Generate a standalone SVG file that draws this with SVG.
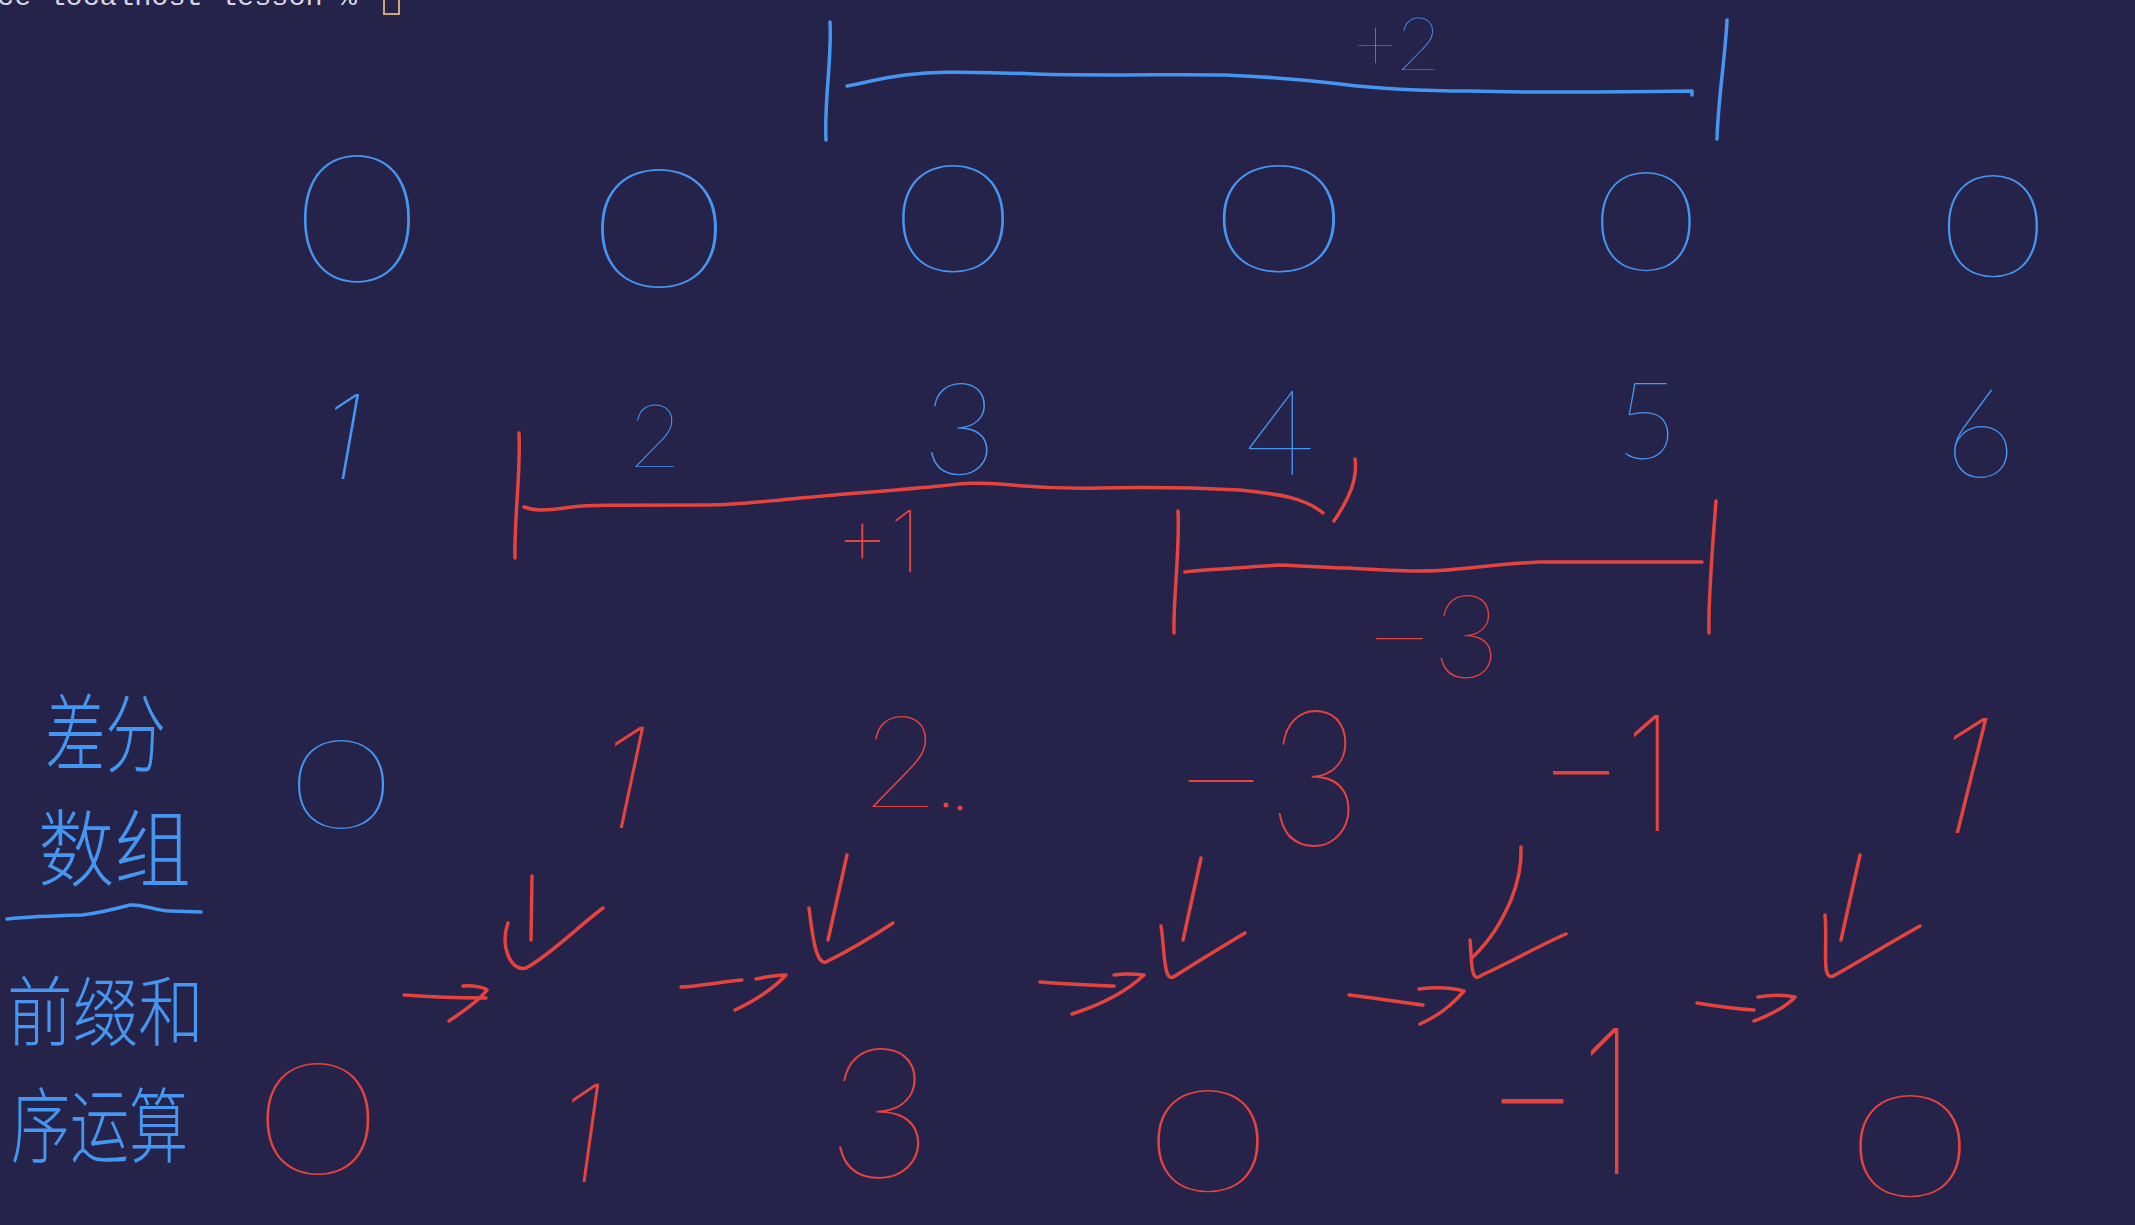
<svg xmlns="http://www.w3.org/2000/svg" width="2135" height="1225" viewBox="0 0 2135 1225">
<style>
.b{fill:none;stroke:#4596f0;stroke-width:3.5;stroke-linecap:round;stroke-linejoin:round}
.r{fill:none;stroke:#e5433d;stroke-width:3.5;stroke-linecap:round;stroke-linejoin:round}
.tb,.tr{font-family:Lato,Roboto,Inter,"DejaVu Sans",sans-serif;font-weight:200;text-anchor:middle}
.one{font-family:Inter,"Open Sans",Lato,sans-serif;font-weight:100}
.tb{fill:#4596f0}
.tr{fill:#e5433d}
.cjk{font-family:"Noto Sans CJK SC","Noto Sans CJK JP",sans-serif;font-weight:300;fill:#4596f0}
.term{font-family:"Liberation Mono","DejaVu Sans Mono",monospace;font-size:27px;fill:#d8d8e0}
</style>
<rect width="2135" height="1225" fill="#26234b"/>

<g id="terminal">
<text class="term" x="-3" y="5" textLength="360" lengthAdjust="spacingAndGlyphs">ce localhost lesson %</text>
<rect x="384" y="-6" width="15" height="20" fill="none" stroke="#c9a77a" stroke-width="2"/>
</g>

<g id="bracket-plus2">
<path class="b" d="M830,22 C832,60 824,100 826,140"/>
<path class="b" d="M847,86 C860,84 880,78 905,75 C930,72 950,71 1035,74 C1100,76 1180,74 1225,75 C1270,77 1300,79 1340,84 C1380,89 1420,91 1470,91 C1530,93 1600,92 1692,91 L1692,95"/>
<path class="b" d="M1727,20 C1725,60 1718,100 1717,139"/>
<text class="tb" x="1397" y="70" font-size="74">+2</text>
</g>

<g id="row-initial">
<text class="tb" transform="translate(357,282) scale(1.2,1)" font-size="178">0</text>
<text class="tb" transform="translate(659,287) scale(1.4,1)" font-size="167">0</text>
<text class="tb" transform="translate(953,272) scale(1.36,1)" font-size="151">0</text>
<text class="tb" transform="translate(1279,272) scale(1.5,1)" font-size="151">0</text>
<text class="tb" transform="translate(1646,270) scale(1.3,1)" font-size="139">0</text>
<text class="tb" transform="translate(1993,276) scale(1.27,1)" font-size="143">0</text>
</g>

<g id="row-index">
<text class="tb one" transform="translate(336,479) skewX(-10)" font-size="117">1</text>
<text class="tb" x="655" y="467" font-size="88">2</text>
<text class="tb" x="960" y="474" font-size="129">3</text>
<text class="tb" x="1280" y="475" font-size="120">4</text>
<text class="tb" x="1647" y="459" font-size="108">5</text>
<text class="tb" x="1980" y="477" font-size="124">6</text>
</g>

<g id="bracket-plus1">
<path class="r" d="M519,433 C521,470 514,520 515,558"/>
<path class="r" d="M524,507 C532,510 540,512 572,507 C590,505 600,505 708,505 C735,505 750,503 790,499 C830,495 900,490 940,486 C960,484 970,482 1000,484 C1030,487 1060,489 1100,488 C1150,487 1200,488 1240,490 C1280,494 1305,498 1323,513"/>
<path class="r" d="M1355,459 C1358,480 1348,500 1334,521"/>
<text class="tr one" x="878" y="572" font-size="85">+1</text>
</g>

<g id="bracket-minus3">
<path class="r" d="M1178,511 C1180,550 1173,600 1174,633"/>
<path class="r" d="M1185,572 C1200,570 1240,568 1280,565 C1310,566 1330,568 1348,568 C1380,570 1400,571 1416,571 C1440,571 1450,570 1457,569 C1480,567 1500,564 1539,562 L1702,562"/>
<path class="r" d="M1716,501 C1713,540 1708,600 1709,633"/>
<text class="tr" x="1433" y="678" font-size="116">−3</text>
</g>

<g id="labels">
<text class="cjk" x="45" y="766" font-size="86" textLength="121" lengthAdjust="spacingAndGlyphs">差分</text>
<text class="cjk" x="38" y="880" font-size="84" textLength="153" lengthAdjust="spacingAndGlyphs">数组</text>
<path class="b" d="M7,919 C25,917 41,916 82,915 C100,913 115,909 130,905 C145,904 155,911 170,911 L201,912"/>
<text class="cjk" x="7" y="1040" font-size="76" textLength="197" lengthAdjust="spacingAndGlyphs">前缀和</text>
<text class="cjk" x="11" y="1156" font-size="82" textLength="177" lengthAdjust="spacingAndGlyphs">序运算</text>
</g>

<g id="row-diff">
<text class="tb" transform="translate(341,828) scale(1.4,1)" font-size="124">0</text>
<text class="tr one" transform="translate(613,828) skewX(-12)" font-size="139">1</text>
<text class="tr" x="901" y="807" font-size="128">2</text>
<circle cx="946" cy="805" r="2.5" fill="#e5433d"/>
<circle cx="960" cy="808" r="2.5" fill="#e5433d"/>
<text class="tr" transform="translate(1268,845) scale(0.85,1)" font-size="190">−3</text>
<text class="tr one" transform="translate(1606,831) scale(0.85,1)" font-size="160">−1</text>
<text class="tr one" transform="translate(1948,833) skewX(-14)" font-size="158">1</text>
</g>

<g id="connectors">
<path class="r" d="M532,876 L531,940"/>
<path class="r" d="M508,923 C500,945 510,972 526,968 C550,955 580,925 603,908"/>
<path class="r" d="M847,855 L828,940"/>
<path class="r" d="M809,908 C812,930 815,965 826,962 C850,950 875,935 893,923"/>
<path class="r" d="M1201,858 L1183,940"/>
<path class="r" d="M1161,926 C1165,950 1163,985 1175,976 C1200,960 1225,945 1245,933"/>
<path class="r" d="M1521,847 C1522,870 1515,890 1511,900 C1500,925 1490,940 1473,957"/>
<path class="r" d="M1470,940 C1472,960 1470,985 1482,975 C1515,960 1540,945 1566,934"/>
<path class="r" d="M1860,855 L1841,940"/>
<path class="r" d="M1825,915 C1828,945 1820,985 1835,975 C1870,955 1895,940 1920,926"/>

<path class="r" d="M404,995 C430,997 460,998 486,998"/>
<path class="r" d="M463,986 C475,985 485,988 487,990 C478,1002 462,1012 449,1021"/>
<path class="r" d="M681,987 C700,986 720,982 742,980"/>
<path class="r" d="M756,979 C770,976 780,975 786,975 C772,990 752,1002 735,1010"/>
<path class="r" d="M1040,982 C1065,984 1090,985 1114,986"/>
<path class="r" d="M1114,975 C1125,973 1135,974 1144,975 C1125,993 1100,1005 1072,1014"/>
<path class="r" d="M1349,995 C1375,998 1400,1002 1423,1005"/>
<path class="r" d="M1419,989 C1435,987 1452,988 1464,991 C1452,1005 1440,1015 1420,1024"/>
<path class="r" d="M1697,1003 C1715,1006 1735,1009 1754,1010"/>
<path class="r" d="M1758,997 C1770,995 1785,995 1795,997 C1785,1008 1770,1015 1754,1021"/>
</g>

<g id="row-prefix">
<text class="tr" transform="translate(318,1174) scale(1.33,1)" font-size="156">0</text>
<text class="tr one" transform="translate(576,1182) skewX(-8)" font-size="135">1</text>
<text class="tr" x="880" y="1178" font-size="183">3</text>
<text class="tr" transform="translate(1208,1191) scale(1.44,1)" font-size="142">0</text>
<text class="tr one" transform="translate(1560,1174) scale(0.75,1)" font-size="200">−1</text>
<text class="tr" transform="translate(1910,1196) scale(1.43,1)" font-size="143">0</text>
</g>
</svg>
